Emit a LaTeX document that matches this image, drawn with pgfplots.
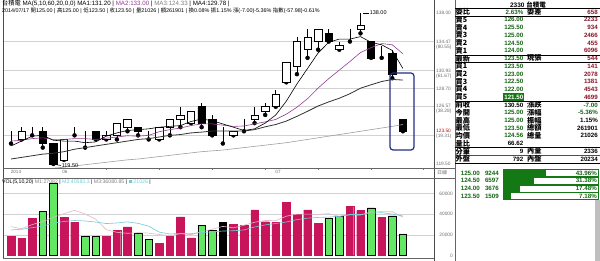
\documentclass[border=0pt]{standalone}
\usepackage{pgfplots}
\pgfplotsset{compat=1.18}
\usepackage{pgfplotstable}
\usepackage{fontspec}
\setmainfont{Liberation Sans}
\newfontfamily\cjk{Noto Sans CJK TC}
\definecolor{upv}{RGB}{200,20,90}
\definecolor{dnv}{RGB}{100,232,100}
\definecolor{gridc}{RGB}{210,210,210}
\definecolor{numg}{RGB}{20,100,20}
\definecolor{numr}{RGB}{140,20,40}
\definecolor{boxb}{RGB}{35,45,135}
\definecolor{maten}{RGB}{150,60,150}
\definecolor{vmaf}{RGB}{225,185,200}
\definecolor{vmat}{RGB}{110,205,215}
\definecolor{fillg}{RGB}{20,120,20}
\definecolor{lblg}{RGB}{110,110,110}

\pgfplotstableread{
i O H L C V t
1 123 123.5 122 123 18900 1
2 122.5 124 122.5 123.5 16700 1
3 124 124 123 124 36100 1
4 123.5 124 121.5 122 43200 -1
5 122 122 119.5 119.5 70100 -1
6 120 122.5 120 122.5 37100 1
7 123.5 124 123 123.5 32500 1
8 123 123.5 121.5 123 18300 -1
9 123.5 123.5 122.5 122.5 18300 -1
10 122.5 123.5 122.5 123 18900 1
11 123 124.5 122.5 124.5 24500 1
12 124 125 123.5 125 27700 1
13 124 124 123 123.5 21500 -1
14 123 123.5 122.5 123 16000 -1
15 122.5 124 122.5 124 12100 1
16 124 125 123 125 18900 1
17 125 126.5 124 125.5 37400 1
18 124.5 126 124.5 126 17000 1
19 126.5 127 124 124.5 29600 -1
20 125 125.5 123 123 24500 -1
21 123 124 122 123 32800 0
22 123 123.5 123 123.5 30400 1
23 124 125 123.5 124 29600 1
24 125 126.5 124.5 125.5 44200 1
25 126 127 125.5 126.5 32800 1
26 126.5 128.5 126.5 128 32500 1
27 129.5 132 129.5 132 51600 1
28 131.5 135 130.5 134.5 40000 1
29 133.5 136 132.5 135 44200 1
30 134.5 136 133.5 136 31300 1
31 135.5 136 134.5 134.5 36100 -1
32 133.5 134.5 133.5 134 38300 -1
33 134.5 136 134.5 134.5 47400 1
34 136 138 135.5 136.5 43500 1
35 134.5 134.5 132.5 132.5 46400 -1
36 133 134 132.5 133 36700 1
37 133 133.5 130 130.5 38600 -1
38 125 125 123.5 123.5 21026 -1
}\kdata

\pgfplotsset{
  pane/.style={at={(3pt,0pt)}, anchor=north west, width=431pt, height=168pt,
    scale only axis, xmin=0.245, xmax=40.94, ymin=119.0, ymax=139.59,
    hide axis, clip=true},
  vpane/.style={at={(3pt,-178pt)}, anchor=north west, width=431pt, height=77.5pt,
    scale only axis, xmin=0.245, xmax=40.94, ymin=0, ymax=75243,
    hide axis, clip=true}
}
\newcommand\rlab{\cjk\bfseries\fontsize{7.2}{8}\selectfont}
\newcommand\rnum{\bfseries\fontsize{6.2}{7}\selectfont}
\newcommand\rrow[7]{%
  \node[anchor=west, font=\rlab, inner sep=0pt] at (455.5pt,-#1pt) {#2};
  \node[anchor=east, font=\rnum, text=#4, inner sep=0pt] at (523.5pt,-#1pt) {#3};
  \node[anchor=west, font=\rlab, inner sep=0pt] at (527pt,-#1pt) {#5};
  \node[anchor=east, font=\rnum, text=#7, inner sep=0pt] at (598pt,-#1pt) {#6};}

\begin{document}
\begin{tikzpicture}
\path[use as bounding box, fill=white] (0,0) rectangle (600pt,-261pt);

% ---------- price pane: grid and wicks
\begin{axis}[pane]
\foreach \g in {123.03,126.57,128.75,130.93,134.47} {\edef\tmp{\noexpand\draw[gridc, line width=0.6pt] (axis cs:0.245,\g) -- (axis cs:40.94,\g);}\tmp}
\addplot[only marks, mark=none, error bars/.cd, y dir=plus, y explicit,
  error mark=none, error bar style={black, line width=0.6pt}]
  table[x=i, y=L, y error expr={\thisrow{H}-\thisrow{L}}] {\kdata};
\end{axis}
% ---------- candle bodies
\begin{axis}[pane, ybar stacked, bar width=7.4pt]
\addplot[draw=none, fill=none] table[x=i, y expr={min(\thisrow{O},\thisrow{C})}] {\kdata};
\addplot[draw=black, fill=white, line width=0.6pt] table[x=i, y expr={max(\thisrow{C}-\thisrow{O},0)}] {\kdata};
\addplot[draw=black, fill=black, line width=0.6pt] table[x=i, y expr={max(\thisrow{O}-\thisrow{C},0)}] {\kdata};
\end{axis}
% ---------- moving averages
\begin{axis}[pane]
\addplot[gray!75, line width=0.6pt] coordinates {(1,118.4)(2,118.55)(3,118.7)(4,118.85)(5,118.97)(6,119.1)(7,119.25)(8,119.4)(9,119.55)(10,119.7)(11,119.85)(12,120.0)(13,120.1)(14,120.25)(15,120.4)(16,120.55)(17,120.7)(18,120.85)(19,121.0)(20,121.1)(21,121.2)(22,121.35)(23,121.5)(24,121.65)(25,121.8)(26,121.95)(27,122.1)(28,122.3)(29,122.5)(30,122.7)(31,122.9)(32,123.1)(33,123.3)(34,123.5)(35,123.7)(36,123.9)(37,124.1)(38,124.33)};
\addplot[black!80, line width=0.8pt] coordinates {(1,120.1)(2,120.3)(3,120.5)(4,120.7)(5,120.8)(6,121.0)(7,121.3)(8,121.5)(9,121.7)(10,121.9)(11,122.1)(12,122.3)(13,122.5)(14,122.6)(15,122.8)(16,123.0)(17,123.1)(18,123.3)(19,123.4)(20,123.53)(21,123.53)(22,123.53)(23,123.53)(24,123.7)(25,124.05)(26,124.33)(27,124.75)(28,125.33)(29,125.95)(30,126.6)(31,127.1)(32,127.55)(33,128.1)(34,128.78)(35,129.2)(36,129.6)(37,129.85)(38,129.78)};
\addplot[maten, line width=0.6pt] coordinates {(1,122.3)(2,122.4)(3,122.6)(4,122.7)(5,122.5)(6,122.5)(7,122.6)(8,122.6)(9,122.5)(10,122.65)(11,122.8)(12,122.95)(13,122.9)(14,123.0)(15,123.45)(16,123.7)(17,123.9)(18,124.2)(19,124.4)(20,124.4)(21,124.25)(22,124.1)(23,124.15)(24,124.4)(25,124.65)(26,124.95)(27,125.6)(28,126.45)(29,127.5)(30,128.8)(31,129.95)(32,131.0)(33,132.05)(34,133.15)(35,133.75)(36,134.25)(37,134.1)(38,133.0)};
\addplot[black, line width=0.6pt] coordinates {(1,121.7)(2,122.3)(3,122.9)(4,123.0)(5,122.4)(6,122.3)(7,122.3)(8,122.1)(9,122.2)(10,122.9)(11,123.3)(12,123.6)(13,123.7)(14,123.8)(15,124.0)(16,124.1)(17,124.2)(18,124.7)(19,125.0)(20,124.8)(21,124.4)(22,124.0)(23,123.6)(24,123.8)(25,124.5)(26,125.5)(27,127.2)(28,129.3)(29,131.2)(30,133.1)(31,134.4)(32,134.8)(33,134.8)(34,135.1)(35,134.4)(36,134.1)(37,133.4)(38,131.2)};
\end{axis}
\draw[black, line width=0.5pt] (363pt,-13pt) -- (369pt,-13pt) node[right, inner sep=0.5pt, font=\fontsize{5.5}{6}\selectfont]{138.00};
\draw[black, line width=0.5pt] (55pt,-164.5pt) -- (61pt,-165.5pt) node[right, inner sep=0.5pt, font=\fontsize{5.5}{6}\selectfont]{119.50};
\draw[boxb, line width=1.2pt, rounded corners=3pt] (390pt,-73pt) rectangle (414pt,-150pt);

% ---------- date strip
\foreach \xx in {106,159,212,265,318,371,423} {\draw[gray, line width=0.5pt] (\xx pt,-168pt) -- (\xx pt,-170.5pt);}
\node[font=\fontsize{4.6}{5}\selectfont, text=lblg, inner sep=0pt] at (16pt,-172.3pt) {2014};
\node[font=\fontsize{4.6}{5}\selectfont, text=lblg, inner sep=0pt] at (65pt,-172.3pt) {06};
\node[font=\fontsize{4.6}{5}\selectfont, text=lblg, inner sep=0pt] at (278pt,-172.3pt) {07};

% ---------- volume pane
\begin{axis}[vpane]
\foreach \g in {20000,40000,60000} {\edef\tmp{\noexpand\draw[gridc, line width=0.6pt] (axis cs:0.245,\g) -- (axis cs:40.94,\g);}\tmp}
\addplot[ybar, bar width=7.6pt, bar shift=0pt, fill=upv, draw=upv, line width=0.4pt]
  table[x=i, y=V, restrict expr to domain={\thisrow{t}}{0.5:1.5}] {\kdata};
\addplot[ybar, bar width=7.6pt, bar shift=0pt, fill=dnv, draw=black, line width=0.4pt]
  table[x=i, y=V, restrict expr to domain={\thisrow{t}}{-1.5:-0.5}] {\kdata};
\addplot[ybar, bar width=7.6pt, bar shift=0pt, fill=black, draw=black, line width=0.4pt]
  table[x=i, y=V, restrict expr to domain={\thisrow{t}}{-0.5:0.5}] {\kdata};
\addplot[vmaf, line width=0.6pt] coordinates {(1,28000)(2,26000)(3,30000)(4,33000)(5,37000)(6,40640)(7,43800)(8,40240)(9,35260)(10,25020)(11,22500)(12,21540)(13,22180)(14,21720)(15,20360)(16,19240)(17,21180)(18,20280)(19,23000)(20,25480)(21,28260)(22,26860)(23,29380)(24,32300)(25,33960)(26,33900)(27,38140)(28,40220)(29,40220)(30,39920)(31,40640)(32,37980)(33,39460)(34,39320)(35,42340)(36,42460)(37,42520)(38,37245)};
\addplot[vmat, line width=0.6pt] coordinates {(1,24800)(2,25500)(3,27000)(4,28500)(5,31500)(6,33000)(7,34000)(8,33500)(9,32500)(10,31010)(11,31570)(12,32670)(13,31210)(14,28490)(15,22690)(16,20870)(17,21360)(18,21230)(19,22360)(20,22920)(21,23750)(22,24020)(23,24830)(24,27650)(25,29720)(26,31080)(27,32500)(28,34800)(29,36260)(30,36940)(31,37270)(32,38060)(33,39840)(34,39770)(35,41130)(36,41550)(37,40250)(38,38353)};
\end{axis}

% ---------- frames
\draw[black!70, line width=0.6pt] (3pt,0pt) -- (3pt,-258pt);
\draw[black!70, line width=0.6pt] (434pt,0pt) -- (434pt,-261pt);
\draw[black!60, line width=0.5pt] (3pt,-168pt) -- (455pt,-168pt);
\draw[black!60, line width=0.5pt] (3pt,-178pt) -- (455pt,-178pt);
\draw[black!60, line width=0.5pt] (3pt,-258pt) -- (434pt,-258pt);
\draw[black!60, line width=0.5pt] (455pt,0pt) -- (455pt,-261pt);

% ---------- header texts
\node[anchor=west, inner sep=0pt, font=\fontsize{6.2}{6.5}\selectfont] at (2pt,-3.5pt)
  {{\cjk 台積電} MA(5,10,60,20,0,0) MA1:131.20 | \textcolor{maten}{MA2:133.00} | \textcolor{gray}{MA3:124.33} | MA4:129.78 |};
\node[anchor=west, inner sep=0pt, font=\fontsize{5.4}{6}\selectfont] at (2pt,-11pt)
  {2014/07/17 {\cjk 開}125.00 | {\cjk 高}125.00 | {\cjk 低}123.50 | {\cjk 收}123.50 | {\cjk 量}21026 | {\cjk 額}261901 | {\cjk 換}0.08\% {\cjk 振}1.15\% {\cjk 漲}(-7.00)-5.36\% {\cjk 指數}(-57.98)-0.61\%};
\node[anchor=west, inner sep=0pt, font=\fontsize{5.2}{5.5}\selectfont] at (2pt,-182pt)
  {VOL(5,10,20) \textcolor{gray}{M1:27082} | \textcolor{vmat}{M2:40583.3} | \textcolor{gray}{M3:36080.85} | \textcolor{vmat}{\rule{3.5pt}{3.5pt}:21026} |};

% ---------- price labels column
\begin{scope}[every node/.style={anchor=west, inner sep=0pt, font=\fontsize{4.8}{5}\selectfont, text=lblg}]
\node at (436pt,-13pt) {138.00};
\node at (436pt,-41.8pt) {134.47};
\node at (436pt,-47pt) {(80.55)};
\node at (436pt,-70.7pt) {130.93};
\node at (436pt,-76pt) {(61.67)};
\node at (436pt,-88.5pt) {128.70};
\node at (436pt,-106.3pt) {126.57};
\node at (436pt,-111.5pt) {(38.28)};
\node[text=red!80!black] at (436pt,-131.3pt) {123.50};
\node at (436pt,-136.5pt) {(19.31)};
\node at (436pt,-164pt) {119.50};
\node[font=\cjk\fontsize{5}{5}\selectfont] at (437pt,-173pt) {日線};
\end{scope}
\begin{scope}[every node/.style={anchor=east, inner sep=0pt, font=\fontsize{4.8}{5}\selectfont, text=lblg}]
\node at (453pt,-193.7pt) {60000};
\node at (453pt,-214.3pt) {40000};
\node at (453pt,-234.9pt) {20000};
\node at (453pt,-255.5pt) {0};
\end{scope}

% ---------- right panel
\node[font=\bfseries\fontsize{6.5}{7}\selectfont, inner sep=0pt] at (528pt,-4.5pt) {2330 {\cjk 台積電}};
\draw[black, line width=0.5pt] (455pt,-8.5pt) -- (600pt,-8.5pt);
\draw[black, line width=0.5pt] (455pt,-16pt) -- (600pt,-16pt);
\draw[black, line width=0.5pt] (455pt,-54.8pt) -- (600pt,-54.8pt);
\draw[black, line width=0.5pt] (455pt,-62.2pt) -- (600pt,-62.2pt);
\draw[black, line width=0.5pt] (455pt,-101pt) -- (600pt,-101pt);
\draw[black, line width=0.5pt] (455pt,-147.5pt) -- (600pt,-147.5pt);
\draw[fillg, line width=0.6pt] (455pt,-155.2pt) -- (600pt,-155.2pt);
\draw[black, line width=0.5pt] (455pt,-163pt) -- (600pt,-163pt);
\fill[fillg] (503pt,-93.5pt) rectangle (524pt,-100.7pt);
\rrow{12.0}{委比}{2.63\%}{numg}{委差}{658}{numr}
\rrow{19.7}{賣5}{126.00}{numg}{}{2233}{numr}
\rrow{27.5}{賣4}{125.50}{numg}{}{934}{numr}
\rrow{35.2}{賣3}{125.00}{numg}{}{2466}{numr}
\rrow{43.0}{賣2}{124.50}{numg}{}{455}{numr}
\rrow{50.7}{賣1}{124.00}{numg}{}{6096}{numr}
\rrow{58.4}{最新}{123.50}{numg}{現張}{544}{numr}
\rrow{66.2}{買1}{123.50}{numg}{}{141}{numr}
\rrow{73.9}{買2}{123.00}{numg}{}{2078}{numr}
\rrow{81.7}{買3}{122.50}{numg}{}{1381}{numr}
\rrow{89.4}{買4}{122.00}{numg}{}{4543}{numr}
\rrow{97.1}{買5}{121.50}{white}{}{4699}{numr}
\rrow{104.9}{前收}{130.50}{black}{漲跌}{-7.00}{numg}
\rrow{112.6}{今開}{125.00}{numg}{漲幅}{-5.36\%}{numg}
\rrow{120.4}{最高}{125.00}{numg}{振幅}{1.15\%}{black}
\rrow{128.1}{最低}{123.50}{numg}{總額}{261901}{black}
\rrow{135.8}{均價}{124.56}{numg}{總量}{21026}{black}
\rrow{143.6}{量比}{66.62}{black}{}{}{black}
\rrow{151.3}{分筆}{9}{black}{內量}{2336}{black}
\rrow{159.1}{外盤}{792}{black}{內盤}{20234}{black}

% ratio bars
\begin{axis}[at={(503pt,-169.2pt)}, anchor=north west, width=95pt, height=30.8pt, scale only axis,
  xmin=0, xmax=100, ymin=0.5, ymax=4.5, y dir=reverse, hide axis, clip=false]
\addplot[xbar, bar width=7.2pt, bar shift=0pt, fill=white, draw=fillg, line width=0.5pt] coordinates {(100,1)(100,2)(100,3)(100,4)};
\addplot[xbar, bar width=7.2pt, bar shift=0pt, fill=fillg, draw=fillg, line width=0.5pt] coordinates {(43.96,1)(31.38,2)(17.48,3)(7.18,4)};
\end{axis}
\begin{scope}[every node/.style={anchor=east, inner sep=0pt, font=\rnum, text=numg}]
\node at (480pt,-173pt) {125.00}; \node at (499pt,-173pt) {9244}; \node at (597pt,-173pt) {43.96\%};
\node at (480pt,-180.7pt) {124.50}; \node at (499pt,-180.7pt) {6597}; \node at (597pt,-180.7pt) {31.38\%};
\node at (480pt,-188.4pt) {124.00}; \node at (499pt,-188.4pt) {3676}; \node at (597pt,-188.4pt) {17.48\%};
\node at (480pt,-196.1pt) {123.50}; \node at (499pt,-196.1pt) {1509}; \node at (597pt,-196.1pt) {7.18\%};
\end{scope}
\fill[black!25] (595pt,-200pt) rectangle (600pt,-261pt);
\end{tikzpicture}
\end{document}
